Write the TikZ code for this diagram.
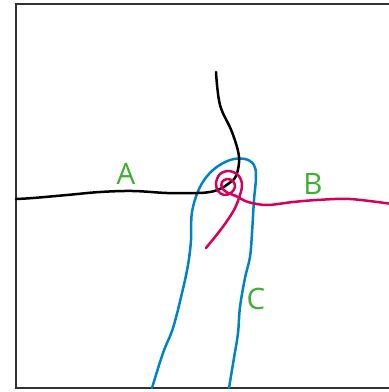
\documentclass[tikz,border=0pt]{standalone}
\usepackage{fontspec}
\setmainfont{Open Sans}
\definecolor{lblgreen}{RGB}{62,176,48}
\definecolor{cblue}{RGB}{0,130,200}
\definecolor{bmag}{RGB}{214,0,90}
\definecolor{frame}{RGB}{50,50,50}
\tikzset{
  curveline/.style={line width=2.5pt, line cap=round, line join=round},
  lbl/.style={text=lblgreen, font=\fontsize{29.5}{31}\selectfont, anchor=base, inner sep=0pt},
}
\begin{document}
\begin{tikzpicture}[x=1pt,y=-1pt]
\useasboundingbox (0,0) rectangle (389,392);
\draw[frame, line width=1.4pt] (392,4) -- (16,4) -- (16,388) -- (392,388);
% C (blue)
\draw[curveline, cblue] plot[smooth, tension=0.6] coordinates {
 (152,388) (163,353) (173,328) (182,293) (188,265) (191,240) (192,212)
 (200,187) (213,170) (230,160) (245,159) (254,165) (256,177) (254,200) (252,233) (250,257)
 (245,278) (240,307) (238,333) (234,358) (229,388)};
% A (black)
\draw[curveline, black] plot[smooth, tension=0.6] coordinates {
 (216,72) (220,105) (232,132) (239,157) (236,176) (228,184) (220,189) (210,192)
 (197,193) (167,193) (133,191) (100,192) (67,195) (33,198) (16,199)};
% B (magenta)
\draw[curveline, bmag] plot[smooth, tension=0.55] coordinates {
 (392,204) (350,199) (317,200) (293,202) (267,205) (248,202) (236,196) (228,193) (222,188)
 (222,182) (227,179) (233,181) (235,187) (231,193) (224,195) (218,191) (216,183) (220,174)
 (229,171) (238,175) (242,184) (240,195) (234,210) (222,228) (206,248)};
\node[lbl] (la) at (126,184) {A};
\node[lbl] (lb) at (313,194) {B};
\node[lbl] (lc) at (256,309) {C};
\end{tikzpicture}
\end{document}
